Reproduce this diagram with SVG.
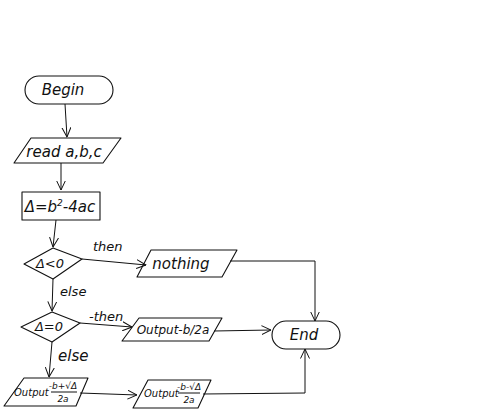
<svg xmlns="http://www.w3.org/2000/svg" width="482" height="411" viewBox="0 0 482 411">
  <defs>
    <style>
      .shape { fill: none; stroke: #111; stroke-width: 1.1; stroke-linejoin: round; }
      .edge { fill: none; stroke: #111; stroke-width: 1; }
      .lbl { font-family: "DejaVu Sans", "Liberation Sans", sans-serif; font-style: italic; font-weight: 300; fill: #111; }
      .big { font-size: 15px; }
      .mid { font-size: 13px; }
      .sm { font-size: 9px; }
      .out { font-size: 10px; }
    </style>
    <marker id="arr" viewBox="0 0 10 10" refX="9.5" refY="5" markerWidth="10" markerHeight="10" markerUnits="userSpaceOnUse" orient="auto">
      <polyline points="0,0.5 9.5,5 0,9.5" fill="none" stroke="#111" stroke-width="1"/>
    </marker>
  </defs>
  <rect width="482" height="411" fill="#fff"/>

  <!-- connectors -->
  <g id="connectors">
    <line class="edge" x1="65" y1="104" x2="67" y2="137" marker-end="url(#arr)"/>
    <line class="edge" x1="61" y1="163" x2="61" y2="190" marker-end="url(#arr)"/>
    <line class="edge" x1="56" y1="220" x2="53" y2="247" marker-end="url(#arr)"/>
    <line class="edge" x1="82" y1="259" x2="146" y2="265" marker-end="url(#arr)"/>
    <polyline class="edge" points="230,261 315,261 315,321" marker-end="url(#arr)"/>
    <line class="edge" x1="53" y1="279" x2="52" y2="311" marker-end="url(#arr)"/>
    <line class="edge" x1="80" y1="323" x2="132" y2="327" marker-end="url(#arr)"/>
    <line class="edge" x1="214" y1="331" x2="271" y2="330" marker-end="url(#arr)"/>
    <line class="edge" x1="52" y1="342" x2="49" y2="377" marker-end="url(#arr)"/>
    <line class="edge" x1="80" y1="393" x2="137" y2="395" marker-end="url(#arr)"/>
    <polyline class="edge" points="203,394 305,393 305,349" marker-end="url(#arr)"/>
    <text class="lbl mid" x="93" y="251">then</text>
    <text class="lbl mid" x="60" y="296">else</text>
    <text class="lbl mid" x="89" y="321">-then</text>
    <text class="lbl big" x="58" y="361">else</text>
  </g>

  <g id="begin">
    <rect class="shape" x="25" y="76" width="88" height="28" rx="14" ry="14"/>
    <text class="lbl big" x="63" y="95" text-anchor="middle">Begin</text>
  </g>

  <g id="read">
    <polygon class="shape" points="31,138 121,138 103,163 14,163"/>
    <text class="lbl big" x="64" y="157" text-anchor="middle">read a,b,c</text>
  </g>

  <g id="delta">
    <rect class="shape" x="22" y="192" width="78" height="28"/>
    <text class="lbl big" x="60" y="212" text-anchor="middle">Δ=b<tspan class="sm" dy="-6">2</tspan><tspan dy="6">-4ac</tspan></text>
  </g>

  <g id="lt0">
    <polygon class="shape" points="24,264 53,248 82,259 53,279"/>
    <text class="lbl mid" x="50" y="268" text-anchor="middle">Δ&lt;0</text>
  </g>

  <g id="nothing">
    <polygon class="shape" points="151,250 237,250 222,277 137,277"/>
    <text class="lbl big" x="181" y="269" text-anchor="middle">nothing</text>
  </g>

  <g id="eq0">
    <polygon class="shape" points="21,327 52,312 80,323 52,342"/>
    <text class="lbl mid" x="49" y="331" text-anchor="middle">Δ=0</text>
  </g>

  <g id="single">
    <polygon class="shape" points="139,318 222,318 209,341 122,341"/>
    <text class="lbl" x="173" y="334" text-anchor="middle" style="font-size:12px">Output-b/2a</text>
  </g>

  <g id="end">
    <rect class="shape" x="272" y="321" width="68" height="28" rx="14" ry="14"/>
    <text class="lbl big" x="304" y="340" text-anchor="middle">End</text>
  </g>

  <g id="root1">
    <polygon class="shape" points="24,378 88,378 76,406 4,406"/>
    <text class="lbl out" x="14" y="396">Output</text>
    <text class="lbl sm" x="63" y="389" text-anchor="middle">-b+√Δ</text>
    <line class="edge" x1="51" y1="392" x2="77" y2="392"/>
    <text class="lbl sm" x="63" y="402" text-anchor="middle">2a</text>
  </g>

  <g id="root2">
    <polygon class="shape" points="148,380 211,380 198,408 133,408"/>
    <text class="lbl out" x="144" y="397">Output</text>
    <text class="lbl sm" x="189" y="390" text-anchor="middle">-b-√Δ</text>
    <line class="edge" x1="178" y1="393" x2="200" y2="393"/>
    <text class="lbl sm" x="189" y="403" text-anchor="middle">2a</text>
  </g>
</svg>
